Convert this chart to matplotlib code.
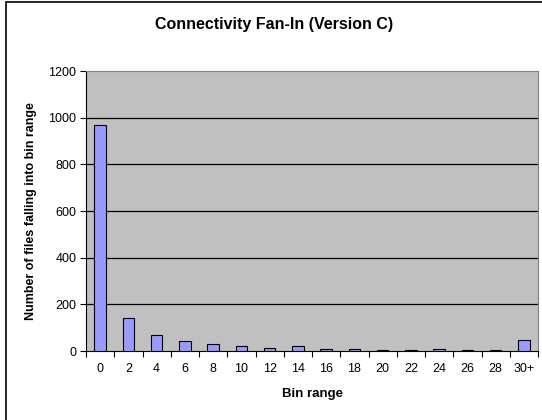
import matplotlib
matplotlib.use("Agg")
import matplotlib.pyplot as plt
from matplotlib.patches import Rectangle
import numpy as np

categories = ["0", "2", "4", "6", "8", "10", "12", "14", "16", "18", "20", "22", "24", "26", "28", "30+"]
counts = [968, 143, 69, 43, 31, 23, 14, 23, 8, 8, 3, 3, 9, 3, 3, 49]
yticks = [0, 200, 400, 600, 800, 1000, 1200]

plt.rcParams['font.family'] = ['Liberation Sans', 'DejaVu Sans']

W, H = 542, 420
fig = plt.figure(figsize=(W / 100, H / 100), dpi=100)
fig.patch.set_facecolor('white')

# outer chart border
fig.add_artist(Rectangle((6 / W, -0.05), 1.2, 1.05 - 1.5 / H, transform=fig.transFigure,
                         fill=False, edgecolor='black', linewidth=1.2))

ax = fig.add_axes([86 / W, 1 - 351 / H, (538 - 86) / W, (351 - 71) / H])
ax.set_facecolor('#C0C0C0')

x = np.arange(len(categories))
ax.bar(x, counts, width=0.4, color='#9999FF', edgecolor='black', linewidth=0.8, zorder=3)

ax.set_xlim(-0.5, len(categories) - 0.5)
ax.set_ylim(0, 1200)
ax.set_yticks(yticks)
ax.set_yticklabels([str(v) for v in yticks], fontsize=9)
for v in yticks[1:-1]:
    ax.axhline(v, color='black', linewidth=0.9, zorder=1)

ax.set_xticks(x)
ax.set_xticklabels(categories, fontsize=9)
ax.tick_params(axis='x', length=0, pad=9)
ax.set_xticks(np.arange(-0.5, len(categories), 1.0), minor=True)
ax.tick_params(axis='x', which='minor', length=4, direction='out', width=0.8)
ax.tick_params(axis='y', length=4, direction='out', width=0.8, pad=3)

ax.spines['top'].set_color('#808080')
ax.spines['right'].set_color('#808080')
ax.spines['left'].set_color('black')
ax.spines['bottom'].set_color('black')

ax.set_xlabel('Bin range', fontsize=9.5, fontweight='bold', labelpad=9)
ax.set_ylabel('Number of files falling into bin range', fontsize=9, fontweight='bold', labelpad=8)

fig.text(0.5 * (6 + 542) / W, 1 - 25 / H, 'Connectivity Fan-In (Version C)', fontsize=11.5,
         fontweight='bold', ha='center', va='center')

fig.savefig('out.png', dpi=100)
